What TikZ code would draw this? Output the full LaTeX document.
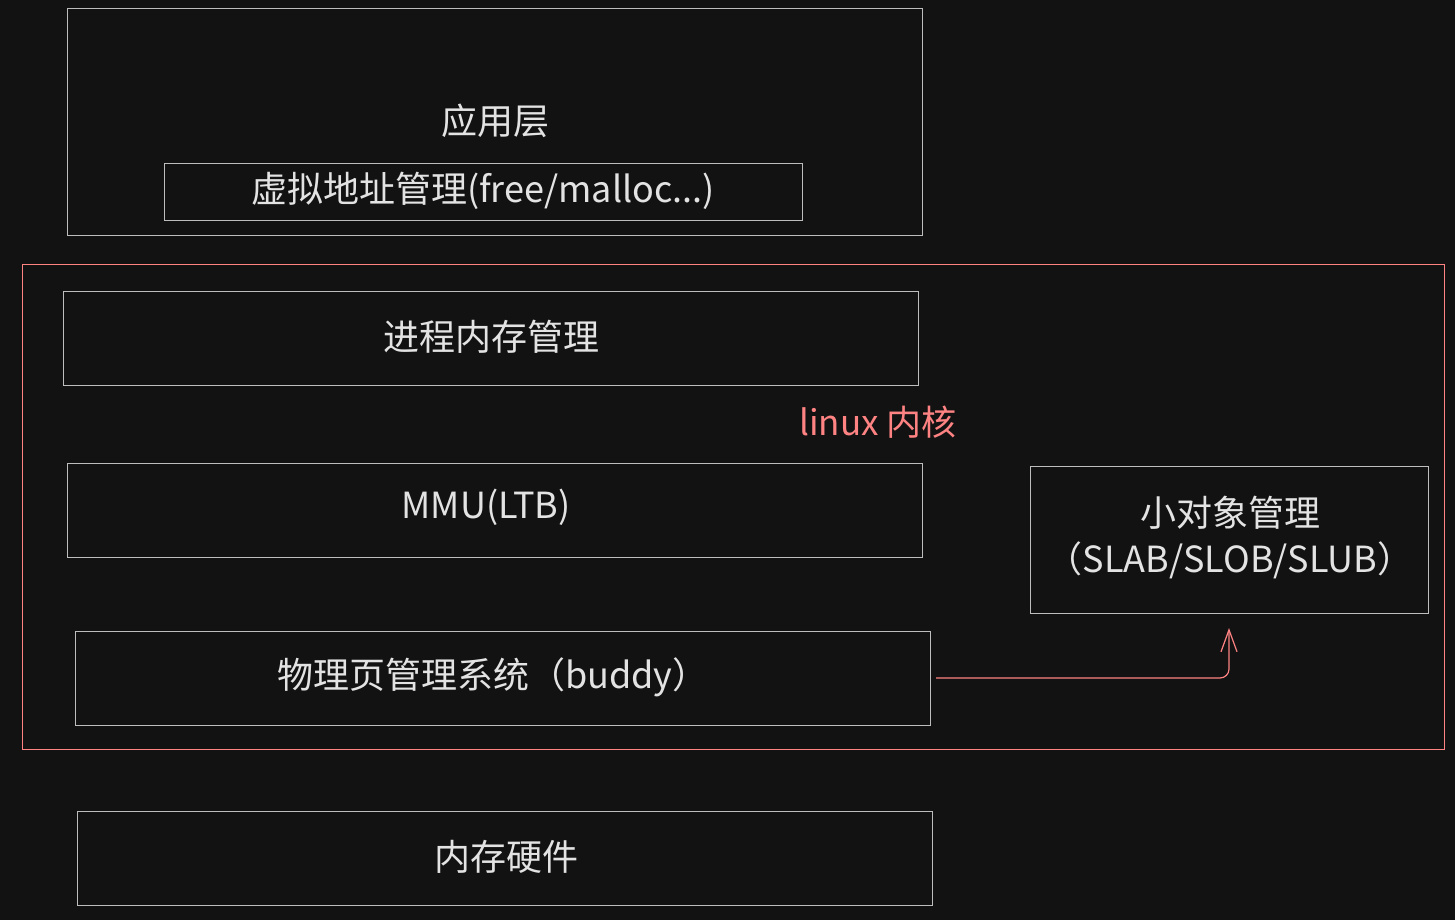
\documentclass[tikz,border=0pt]{standalone}
\usepackage{fontspec}
\setmainfont{Noto Sans CJK SC}
\usetikzlibrary{arrows.meta}
\definecolor{bg}{HTML}{121212}
\definecolor{edge}{HTML}{BDBDBD}
\definecolor{txt}{HTML}{E3E3E3}
\definecolor{redc}{HTML}{FF8383}
\tikzset{
  layer/.style={draw=edge, line width=1pt},
  lbl/.style={text=txt, font=\fontsize{36}{46}\selectfont, align=center, inner sep=0pt},
}
\begin{document}
\begin{tikzpicture}[x=1pt,y=-1pt]
\fill[bg] (0,0) rectangle (1455,920);
\useasboundingbox (0,0) rectangle (1455,920);
% app layer
\draw[layer] (67,9) rectangle (922,235);
\node[lbl] (app) at (495,121) {应用层};
\draw[layer] (164,164) rectangle (802,220);
\node[lbl] (virt) at (483,191) {虚拟地址管理(free/malloc...)};
% kernel
\draw[draw=redc, line width=1pt] (22,264) rectangle (1444,749);
\node[text=redc, font=\fontsize{35}{40}\selectfont, inner sep=0pt] (kern) at (878,422) {linux 内核};
\draw[layer] (63,291) rectangle (918,385);
\node[lbl] (proc) at (491,337) {进程内存管理};
\draw[layer] (67,463) rectangle (922,557);
\node[lbl] (mmu) at (486,507) {MMU(LTB)};
\draw[layer] (1030,466) rectangle (1428,613);
\node[lbl] (slab) at (1230,538) {小对象管理\\（SLAB/SLOB/SLUB）};
\draw[layer] (75,631) rectangle (930,725);
\node[lbl] (buddy) at (493,677) {物理页管理系统（buddy）};
\coordinate (bstart) at (936,678);
\coordinate (bend) at (1229,628);
\draw[redc, line width=1.2pt, rounded corners=9pt, -{Straight Barb[length=22pt,width=16pt]}] (bstart) -- (1229,678) -- (bend);
% hardware
\draw[layer] (77,811) rectangle (932,905);
\node[lbl] (hw) at (506,857) {内存硬件};
\end{tikzpicture}
\end{document}
